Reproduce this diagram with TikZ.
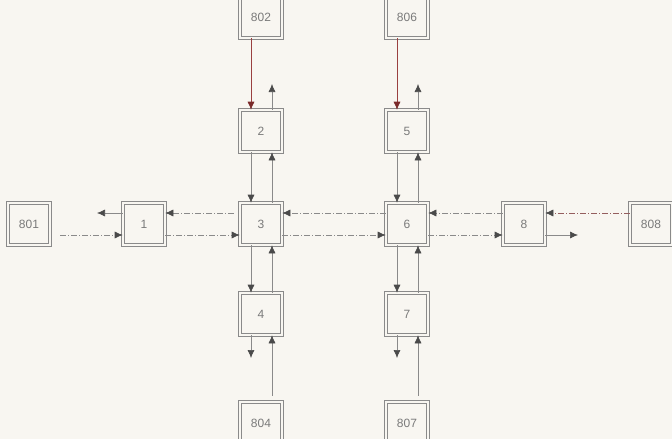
\documentclass[tikz,border=0pt]{standalone}
\usepackage{fontspec}
\setmainfont{Liberation Sans}
\usetikzlibrary{arrows.meta}
\definecolor{bg}{HTML}{F8F6F1}
\definecolor{ln}{HTML}{8A8A8A}
\definecolor{hd}{HTML}{4A4A4A}
\definecolor{rd}{HTML}{9A4040}
\definecolor{rdh}{HTML}{7A2A2A}
\definecolor{tx}{HTML}{7A7A7A}
\tikzset{
  bx/.style={draw=ln, line width=0.6pt, double=bg, double distance=2.4pt,
    minimum width=42pt, minimum height=42pt, inner sep=0pt,
    text=tx, font=\fontsize{12}{14}\selectfont},
  ar/.style={draw=ln, line width=0.6pt, -{Latex[length=8pt,width=7pt,color=hd]}},
  hr/.style={ar, dash pattern=on 6pt off 2pt on 1pt off 2pt},
  rar/.style={draw=rd, line width=0.6pt, -{Latex[length=8pt,width=7pt,color=rdh]}},
}
\begin{document}
\begin{tikzpicture}[x=1pt,y=-1pt]
\fill[bg] (0,0) rectangle (672,439);
\useasboundingbox (0,0) rectangle (672,439);
% boxes
\node[bx] (b802) at (261,17) {802};
\node[bx] (b2) at (261,131) {2};
\node[bx] (b3) at (261,224) {3};
\node[bx] (b4) at (261,314) {4};
\node[bx] (b804) at (261,423) {804};
\node[bx] (b806) at (407,17) {806};
\node[bx] (b5) at (407,131) {5};
\node[bx] (b6) at (407,224) {6};
\node[bx] (b7) at (407,314) {7};
\node[bx] (b807) at (407,423) {807};
\node[bx] (b801) at (29,224) {801};
\node[bx] (b1) at (144,224) {1};
\node[bx] (b8) at (524,224) {8};
\node[bx] (b808) at (651,224) {808};
% free ends
\coordinate (u2) at (272,84);
\coordinate (u5) at (418,84);
\coordinate (d4) at (251,358);
\coordinate (d7) at (397,358);
\coordinate (l1) at (97,213);
\coordinate (r8) at (578,235);
% vertical column A
\draw[rar] (b802.south -| 251,0) -- (b2.north -| 251,0);
\draw[ar] (b2.north -| 272,0) -- (u2);
\draw[ar] (b2.south -| 251,0) -- (b3.north -| 251,0);
\draw[ar] (b3.north -| 272,0) -- (b2.south -| 272,0);
\draw[ar] (b3.south -| 251,0) -- (b4.north -| 251,0);
\draw[ar] (b4.north -| 272,0) -- (b3.south -| 272,0);
\draw[ar] (b4.south -| 251,0) -- (d4);
\draw[ar, shorten <=6pt] (b804.north -| 272,0) -- (b4.south -| 272,0);
% vertical column B
\draw[rar] (b806.south -| 397,0) -- (b5.north -| 397,0);
\draw[ar] (b5.north -| 418,0) -- (u5);
\draw[ar] (b5.south -| 397,0) -- (b6.north -| 397,0);
\draw[ar] (b6.north -| 418,0) -- (b5.south -| 418,0);
\draw[ar] (b6.south -| 397,0) -- (b7.north -| 397,0);
\draw[ar] (b7.north -| 418,0) -- (b6.south -| 418,0);
\draw[ar] (b7.south -| 397,0) -- (d7);
\draw[ar, shorten <=6pt] (b807.north -| 418,0) -- (b7.south -| 418,0);
% horizontal
\draw[ar] (b1.west |- 0,213) -- (l1);
\draw[hr, shorten <=10pt] (b801.east |- 0,235) -- (b1.west |- 0,235);
\draw[hr, shorten <=6pt] (b3.west |- 0,213) -- (b1.east |- 0,213);
\draw[hr] (b1.east |- 0,235) -- (b3.west |- 0,235);
\draw[hr] (b6.west |- 0,213) -- (b3.east |- 0,213);
\draw[hr] (b3.east |- 0,235) -- (b6.west |- 0,235);
\draw[hr] (b8.west |- 0,213) -- (b6.east |- 0,213);
\draw[hr] (b6.east |- 0,235) -- (b8.west |- 0,235);
\draw[hr, draw=rd!60!ln] (b808.west |- 0,213) -- (b8.east |- 0,213);
\draw[ar] (b8.east |- 0,235) -- (r8);
\end{tikzpicture}
\end{document}
